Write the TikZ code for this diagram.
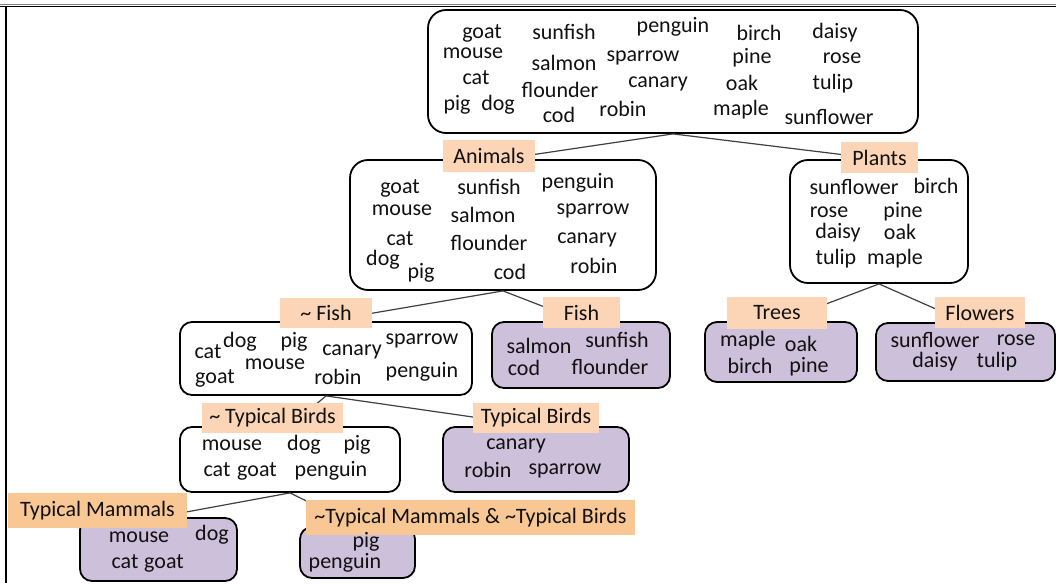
\documentclass[tikz,border=0pt]{standalone}
\usepackage{fontspec}
\setmainfont{Carlito}
\usetikzlibrary{calc}
\definecolor{peach}{HTML}{FBD5B5}
\definecolor{apricot}{HTML}{F9C794}
\definecolor{lilac}{HTML}{CCC0DA}
\definecolor{ink}{HTML}{111111}
\definecolor{wire}{HTML}{404040}
\begin{document}
\begin{tikzpicture}[x=1pt,y=-1pt,
  box/.style={draw=black, line width=1.8pt, inner sep=0pt, fill=white, rounded corners=18pt},
  smallbox/.style={box, rounded corners=12pt},
  leaf/.style={smallbox, fill=lilac},
  tag/.style={fill=peach, inner sep=0pt, text=ink, font=\fontsize{22}{26}\selectfont},
  bigtag/.style={tag, fill=apricot},
  word/.style={inner sep=0pt, text=ink, font=\fontsize{22}{26}\selectfont},
  link/.style={draw=wire, line width=1.2pt}]
\useasboundingbox (0,0) rectangle (1056,583);
\fill[white] (0,0) rectangle (1056,583);

% page frame (top and left rules)
\draw[gray, line width=1pt] (0,5) -- (1056,5);
\draw[black, line width=1.6pt] (0,6.6) -- (1056,6.6);
\draw[black, line width=2pt] (6,6) -- (6,583);

% category boxes
\node[box, minimum width=490pt, minimum height=123pt] (top) at (673,71.5) {};
\node[box, minimum width=306pt, minimum height=130pt] (animals) at (503,225) {};
\node[box, minimum width=178pt, minimum height=123pt] (plants) at (879,221.5) {};
\node[smallbox, minimum width=292pt, minimum height=73pt] (notfish) at (326,358.5) {};
\node[leaf, minimum width=178pt, minimum height=66pt] (fish) at (581,355) {};
\node[leaf, minimum width=152pt, minimum height=60pt] (trees) at (781,352) {};
\node[leaf, minimum width=179pt, minimum height=58pt] (flowers) at (965.5,352) {};
\node[smallbox, minimum width=220pt, minimum height=65pt] (nottb) at (290,459.5) {};
\node[leaf, minimum width=186pt, minimum height=65pt] (tb) at (536,459.5) {};
\node[leaf, minimum width=157pt, minimum height=63pt] (tm) at (158.5,549.5) {};
\node[leaf, minimum width=115pt, minimum height=51pt] (nottmtb) at (357.5,552.5) {};

% tree edges
\draw[link] (top.south) -- (animals.north);
\draw[link] (top.south) -- (plants.north);
\draw[link] (animals.south) -- (notfish.north);
\draw[link] (animals.south) -- (fish.north);
\draw[link] (plants.south) -- (trees.north);
\draw[link] (plants.south) -- (flowers.north);
\draw[link] (notfish.south) -- (nottb.north);
\draw[link] (notfish.south) -- (tb.north);
\draw[link] (nottb.south) -- (tm.north);
\draw[link] (nottb.south) -- (nottmtb.north);

% category labels
\node[tag, minimum width=92pt, minimum height=32pt] (lanimals) at (489,156) {Animals};
\node[tag, minimum width=77pt, minimum height=31pt] (lplants) at (879.5,157.5) {Plants};
\node[tag, minimum width=92pt, minimum height=30pt] (lnotfish) at (326,313) {\textasciitilde{} Fish};
\node[tag, minimum width=77pt, minimum height=31pt] (lfish) at (581.5,312.5) {Fish};
\node[tag, minimum width=100pt, minimum height=32pt] (ltrees) at (777,313) {Trees};
\node[tag, minimum width=90pt, minimum height=31pt] (lflowers) at (980,312.5) {Flowers};
\node[tag, minimum width=141pt, minimum height=30pt] (lnottb) at (272.5,418) {\textasciitilde{} Typical Birds};
\node[tag, minimum width=126pt, minimum height=30pt] (ltb) at (536,418) {Typical Birds};
\node[bigtag, minimum width=179pt, minimum height=35pt] (ltm) at (97.5,510.5) {Typical Mammals};
\node[bigtag, minimum width=329pt, minimum height=35pt] (lnottmtb) at (470.5,517.5) {\textasciitilde Typical Mammals \& \textasciitilde Typical Birds};

% members
\foreach \w/\x/\y [count=\i] in {goat/482/33, mouse/473/53, cat/476/78, pig/457/105, dog/498/105,
  sunfish/564/32, salmon/564/63, flounder/560/90, cod/559/115, penguin/673/27, sparrow/643/58,
  canary/658/84, robin/623/109, birch/759/33, pine/752/58, oak/742/83, maple/741/110,
  daisy/835/33, rose/842/58, tulip/833/84, sunflower/829/117}
  \node[word] (top-\i) at (\x,\y) {\w};
\foreach \w/\x/\y [count=\i] in {goat/400/188, mouse/402/210, cat/400/239, dog/383/260, pig/421/273,
  sunfish/489/187, salmon/483/215, flounder/489/243, cod/510/272, penguin/578/183,
  sparrow/593/211, canary/587/240, robin/594/266}
  \node[word] (animals-\i) at (\x,\y) {\w};
\foreach \w/\x/\y [count=\i] in {sunflower/854/187, birch/936/186, rose/829/212, pine/903/212,
  daisy/838/233, oak/900/232, tulip/836/259, maple/895/259}
  \node[word] (plants-\i) at (\x,\y) {\w};
\foreach \w/\x/\y [count=\i] in {cat/208/352, dog/240/342, pig/294/342, mouse/275/364, goat/215/378,
  canary/352/352, robin/338/377, sparrow/422/341, penguin/422/372}
  \node[word] (notfish-\i) at (\x,\y) {\w};
\foreach \w/\x/\y [count=\i] in {salmon/539/345.5, sunfish/617/340, cod/524/368, flounder/610/367}
  \node[word] (fish-\i) at (\x,\y) {\w};
\foreach \w/\x/\y [count=\i] in {maple/748/341, oak/801/344, birch/750/366, pine/809/367}
  \node[word] (trees-\i) at (\x,\y) {\w};
\foreach \w/\x/\y [count=\i] in {sunflower/935/340, rose/1016/340, daisy/935/362, tulip/997/362}
  \node[word] (flowers-\i) at (\x,\y) {\w};
\foreach \w/\x/\y [count=\i] in {mouse/232/445, dog/304/445, pig/357/445, cat/217/470, goat/257/471,
  penguin/331/471}
  \node[word] (nottb-\i) at (\x,\y) {\w};
\foreach \w/\x/\y [count=\i] in {canary/516/446, robin/488/470, sparrow/565/471}
  \node[word] (tb-\i) at (\x,\y) {\w};
\foreach \w/\x/\y [count=\i] in {mouse/139/537, dog/212/535, cat/125/562, goat/164/563}
  \node[word] (tm-\i) at (\x,\y) {\w};
\foreach \w/\x/\y [count=\i] in {pig/366/542, penguin/345/563}
  \node[word] (nottmtb-\i) at (\x,\y) {\w};
\end{tikzpicture}
\end{document}
